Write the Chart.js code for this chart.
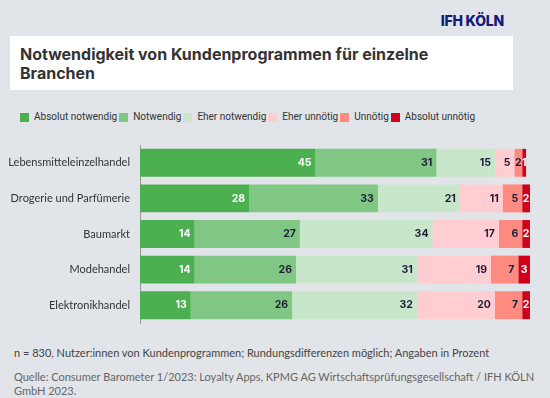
<!DOCTYPE html>
<html>
<head>
<meta charset="utf-8">
<title>Notwendigkeit von Kundenprogrammen</title>
<script src="https://cdn.jsdelivr.net/npm/chart.js"></script>
<style>
    body { margin: 0; width: 550px; height: 398px; background: #e1e4e8; font-family: Lato, "Open Sans", sans-serif; position: relative; overflow: hidden; }
    .logo { position: absolute; right: 46px; top: 12px; font: 800 14px Inter, sans-serif; color: #15197a; letter-spacing: -0.2px; }
    .titlebox { position: absolute; left: 10px; top: 36px; width: 503px; height: 54px; background: #fff; }
    .titlebox h1 { margin: 0; padding: 9px 10px; font: 700 16px/19px Inter, sans-serif; color: #333; }
    .legend { position: absolute; left: 20px; top: 111px; display: flex; font: 10px/12px Roboto, sans-serif; color: #333; }
    .legend span { display: flex; align-items: center; margin-right: 2px; }
    .legend i { display: inline-block; width: 9px; height: 9px; margin-right: 5px; }
    .chart-wrap { position: absolute; left: 0; top: 100px; width: 550px; height: 230px; }
    .note { position: absolute; left: 14px; top: 346px; font-size: 11px; color: #444; }
    .source { position: absolute; left: 14px; top: 370px; width: 530px; font-size: 11px; line-height: 14px; color: #666; }
</style>
</head>
<body>
    <div class="logo">IFH KÖLN</div>
    <div class="titlebox"><h1>Notwendigkeit von Kundenprogrammen für einzelne Branchen</h1></div>
    <div class="legend" id="legend"></div>
    <div class="chart-wrap"><canvas id="chart" width="550" height="230"></canvas></div>
    <div class="note">n = 830, Nutzer:innen von Kundenprogrammen; Rundungsdifferenzen möglich; Angaben in Prozent</div>
    <div class="source">Quelle: Consumer Barometer 1/2023: Loyalty Apps, KPMG AG Wirtschaftsprüfungsgesellschaft / IFH KÖLN GmbH 2023.</div>
<script>
    // Daten
    const branchen = ['Lebensmitteleinzelhandel', 'Drogerie und Parfümerie', 'Baumarkt', 'Modehandel', 'Elektronikhandel'];
    const absolutNotwendig = [45, 28, 14, 14, 13];
    const notwendig = [31, 33, 27, 26, 26];
    const eherNotwendig = [15, 21, 34, 31, 32];
    const eherUnnoetig = [5, 11, 17, 19, 20];
    const unnoetig = [2, 5, 6, 7, 7];
    const absolutUnnoetig = [1, 2, 2, 3, 2];

    const serien = [
        { label: 'Absolut notwendig', data: absolutNotwendig, color: '#4caf50', text: '#fff' },
        { label: 'Notwendig', data: notwendig, color: '#81c784', text: '#1d1d3b' },
        { label: 'Eher notwendig', data: eherNotwendig, color: '#c8e6c9', text: '#1d1d3b' },
        { label: 'Eher unnötig', data: eherUnnoetig, color: '#ffcdd2', text: '#1d1d3b' },
        { label: 'Unnötig', data: unnoetig, color: '#ff8a80', text: '#1d1d3b' },
        { label: 'Absolut unnötig', data: absolutUnnoetig, color: '#d0021b', text: '#fff' }
    ];

    // Legende
    document.getElementById('legend').innerHTML = serien.map(s =>
        `<span><i style="background:${s.color}"></i>${s.label}</span>`).join('');

    // Werte in die Balken schreiben
    const valueLabels = {
        id: 'valueLabels',
        afterDatasetsDraw(chart) {
            const ctx = chart.ctx;
            ctx.save();
            ctx.font = '700 10.5px Inter, sans-serif';
            ctx.textBaseline = 'middle';
            chart.data.datasets.forEach((ds, i) => {
                chart.getDatasetMeta(i).data.forEach((bar, j) => {
                    const txt = String(ds.data[j]);
                    const w = Math.abs(bar.x - bar.base);
                    const tw = ctx.measureText(txt).width;
                    ctx.fillStyle = serien[i].text;
                    if (w < tw + 6) {
                        ctx.textAlign = 'center';
                        ctx.fillText(txt, (bar.x + bar.base) / 2, bar.y);
                    } else {
                        ctx.textAlign = 'right';
                        ctx.fillText(txt, bar.x - 4, bar.y);
                    }
                });
            });
            ctx.restore();
        }
    };

    new Chart(document.getElementById('chart'), {
        type: 'bar',
        data: {
            labels: branchen,
            datasets: serien.map(s => ({
                label: s.label,
                data: s.data,
                backgroundColor: s.color,
                borderWidth: 0,
                barPercentage: 0.8,
                categoryPercentage: 0.98
            }))
        },
        options: {
            indexAxis: 'y',
            responsive: false,
            animation: false,
            layout: { padding: { left: 0, right: 20, top: 45, bottom: 7 } },
            plugins: {
                legend: { display: false },
                tooltip: { enabled: false }
            },
            scales: {
                x: {
                    stacked: true,
                    min: 0,
                    max: 100,
                    display: false
                },
                y: {
                    stacked: true,
                    grid: { display: false, drawTicks: false },
                    border: { display: true, color: '#999', width: 1 },
                    ticks: { color: '#333', padding: 10, font: { family: 'Lato', size: 11 } },
                    afterFit(scale) {
                        scale.width = 140;
                        scale.paddingTop = 0;
                        scale.paddingBottom = 0;
                    }
                }
            }
        },
        plugins: [valueLabels]
    });
</script>
</body>
</html>
